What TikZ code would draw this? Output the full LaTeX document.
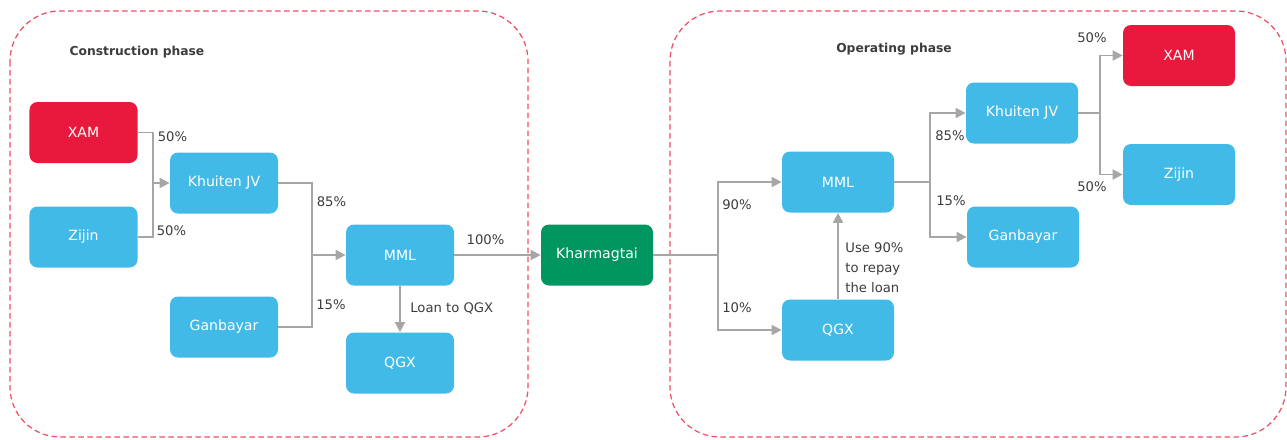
\documentclass[tikz,border=0pt]{standalone}
\usepackage{fontspec}
\setmainfont{DejaVu Sans}
\usetikzlibrary{arrows.meta}

\definecolor{boxblue}{HTML}{42BAE8}
\definecolor{xamred}{HTML}{E8193C}
\definecolor{khagreen}{HTML}{00965F}
\definecolor{linegray}{HTML}{A6A6A6}
\definecolor{framered}{HTML}{F04E66}
\definecolor{labelgray}{HTML}{3C3C3C}

\tikzset{
  box/.style={rectangle,rounded corners=1.6mm,fill=boxblue,text=white,
    minimum width=21.6mm,minimum height=12.2mm,inner sep=0pt,
    font=\fontsize{8}{10}\selectfont},
  frame/.style={draw=framered,line width=0.7pt,dash pattern=on 1.1mm off 0.7mm,
    rounded corners=10mm},
  title/.style={text=labelgray,font=\bfseries\fontsize{7}{9}\selectfont,inner sep=0pt},
  pct/.style={text=labelgray,font=\fontsize{7.5}{11.3}\selectfont,inner sep=0pt},
  line/.style={draw=linegray,line width=0.9pt},
  arr/.style={line,-{Triangle[length=2mm,width=2mm]}}
}

\begin{document}
\begin{tikzpicture}[x=0.2mm,y=-0.2mm]

  \useasboundingbox (0,0) rectangle (1287,439);

  % the two phases
  \draw[frame] (10,11) rectangle (528,437);
  \draw[frame] (670,11) rectangle (1286,437);
  \node[title] (con) at (137,52) {Construction phase};
  \node[title] (ope) at (894,49) {Operating phase};

  \begin{scope}[every node/.style={box}]
    \node[fill=xamred] (xam1) at (83.5,132.5) {XAM};
    \node (zij1) at (83.5,237) {Zijin};
    \node (khu1) at (224,183) {Khuiten JV};
    \node (gan1) at (224,327) {Ganbayar};
    \node (mml1) at (400,255) {MML};
    \node (qgx1) at (400,363) {QGX};
  \end{scope}

  \begin{scope}[every node/.style={box,minimum width=22.4mm}]
    \node[fill=khagreen] (kha) at (597,255) {Kharmagtai};
    \node (mml2) at (838,182) {MML};
    \node (qgx2) at (838,330) {QGX};
    \node (khu2) at (1022,113) {Khuiten JV};
    \node (gan2) at (1023,237) {Ganbayar};
    \node[fill=xamred] (xam2) at (1179,55.5) {XAM};
    \node (zij2) at (1179,174.5) {Zijin};
  \end{scope}

  \coordinate (j1) at (153,183);
  \coordinate (j2) at (312,255);
  \coordinate (j3) at (718,255);
  \coordinate (j4) at (930,182);
  \coordinate (j5) at (1100,113);

  % construction phase
  \draw[line] (xam1.east) -| (j1);
  \draw[line] (zij1.east) -| (j1);
  \draw[arr] (j1) -- (khu1.west);
  \draw[line] (khu1.east) -| (j2);
  \draw[line] (gan1.east) -| (j2);
  \draw[arr] (j2) -- (mml1.west);
  \draw[arr] (mml1.south) -- (qgx1.north);
  \draw[arr] (mml1.east) -- (kha.west);

  % operating phase
  \draw[line] (kha.east) -- (j3);
  \draw[arr] (j3) |- (mml2.west);
  \draw[arr] (j3) |- (qgx2.west);
  \draw[arr] (qgx2.north) -- (mml2.south);
  \draw[line] (mml2.east) -- (j4);
  \draw[arr] (j4) |- (khu2.west);
  \draw[arr] (j4) |- (gan2.west);
  \draw[line] (khu2.east) -- (j5);
  \draw[arr] (j5) |- (xam2.west);
  \draw[arr] (j5) |- (zij2.west);

  \begin{scope}[every node/.style={pct}]
    \node (p1) at (172.5,137) {50\%};
    \node (p2) at (171.5,231) {50\%};
    \node (p3) at (331.5,202) {85\%};
    \node (p4) at (331,305) {15\%};
    \node (p5) at (485.5,239.5) {100\%};
    \node[anchor=west] (loan) at (410,308) {Loan to QGX};
    \node (p6) at (737,205) {90\%};
    \node (p7) at (737,308) {10\%};
    \node[anchor=west,align=left] (repay) at (845,268) {Use 90\%\\to repay\\the loan};
    \node (p8) at (950,136) {85\%};
    \node (p9) at (951,201) {15\%};
    \node (p10) at (1092,38) {50\%};
    \node (p11) at (1092,187) {50\%};
  \end{scope}

\end{tikzpicture}
\end{document}
